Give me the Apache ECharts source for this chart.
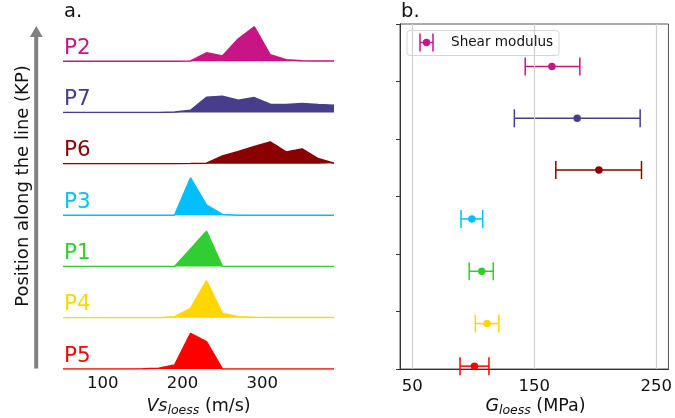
<!DOCTYPE html>
<html>
<head>
<meta charset="utf-8">
<script src="https://cdn.jsdelivr.net/npm/echarts@6/dist/echarts.min.js"></script>
<style>
html,body{margin:0;padding:0;background:#fff;}
#chart{width:675px;height:418px;}
</style>
</head>
<body>
<div id="chart"></div>
<script>
// ---------------- DATA ----------------
// Ridge order from top to bottom
const profiles = ['P2', 'P7', 'P6', 'P3', 'P1', 'P4', 'P5'];
const colors   = ['#C71585', '#483D8B', '#8B0000', '#00BFFF', '#32CD32', '#FFD700', '#FF0000'];

// Vs_loess bins (m/s)
const vsBins = [50, 70, 90, 110, 130, 150, 170, 190, 210, 230, 250, 270, 290, 310, 330, 350, 370, 390];

// Relative density per bin (arbitrary units) read from the ridgelines
const densP2 = [0, 0, 0, 0, 0, 0, 0, 0, 0.3, 8.5, 5.3, 22.5, 34.5, 6.5, 1.5, 0.5, 0.3, 0.3];
const densP7 = [0, 0, 0, 0, 0, 0, 0.2, 0.5, 2.3, 15.3, 16.3, 12.3, 15, 8.3, 8, 9, 8, 7.3];
const densP6 = [0, 0, 0, 0, 0, 0, 0, 0, 0.3, 0.7, 8, 12.3, 17.3, 22, 12, 15, 5.3, 0.7];
const densP3 = [0, 0, 0, 0, 0, 0, 0, 0, 37.3, 10.3, 0.7, 0, 0, 0, 0, 0, 0, 0];
const densP1 = [0, 0, 0, 0, 0, 0, 0, 0, 17.5, 35.3, 0, 0, 0, 0, 0, 0, 0, 0];
const densP4 = [0, 0, 0, 0, 0, 0, 0, 1, 9.3, 37, 4.3, 1, 0.5, 0.3, 0.3, 0.3, 0.3, 0.3];
const densP5 = [0, 0, 0, 0, 0, 0.3, 0.8, 4, 35.7, 27.3, 0, 0, 0, 0, 0, 0, 0, 0];
const densities = [densP2, densP7, densP6, densP3, densP1, densP4, densP5];

const vsTicks = [100, 200, 300];

// Shear modulus G_loess (MPa), same profile order
const gMean = [164.5, 185.2, 203.0, 98.9, 107.0, 111.3, 101.0];
const gLow  = [142.6, 133.7, 167.7, 90.0, 96.7, 101.8, 89.2];
const gHigh = [187.4, 236.8, 237.9, 107.8, 116.4, 121.0, 112.9];
const gPos  = [5.26, 4.36, 3.46, 2.61, 1.70, 0.79, 0.05];
const gTicks = [50, 150, 250];

// ---------------- LAYOUT ----------------
const FONT = 'DejaVu Sans';
const W = 675, H = 418;
const L_LEFT = 63, L_RIGHT = 334;       // left panel x extents
const TOP_BASE = 61.3, BOT_BASE = 369;  // ridge baselines
const RIDGE_H = 46;
const step = (BOT_BASE - TOP_BASE) / (profiles.length - 1);
const R_LEFT = 400, R_RIGHT = 671, R_TOP = 24, R_BOT = 369;

const grids = [], xAxes = [], yAxes = [], series = [], graphics = [];

profiles.forEach((p, i) => {
  const base = TOP_BASE + i * step;
  const last = i === profiles.length - 1;
  grids.push({left: L_LEFT, width: L_RIGHT - L_LEFT, top: base - RIDGE_H, height: RIDGE_H});
  xAxes.push({
    type: 'value', gridIndex: i, min: vsBins[0], max: vsBins[vsBins.length - 1], interval: 50,
    show: last,
    axisLine: {show: false}, axisTick: {show: false}, splitLine: {show: false},
    axisLabel: {
      show: last, margin: 6, color: '#111', fontFamily: FONT, fontSize: 16.5,
      formatter: v => vsTicks.indexOf(v) >= 0 ? String(v) : ''
    }
  });
  yAxes.push({type: 'value', gridIndex: i, min: 0, max: RIDGE_H, show: false});
  series.push({
    type: 'line', name: p, xAxisIndex: i, yAxisIndex: i,
    data: vsBins.map((x, j) => [x, densities[i][j]]),
    showSymbol: false, symbol: 'none',
    lineStyle: {color: colors[i], width: 1.5},
    areaStyle: {color: colors[i], opacity: 1},
    itemStyle: {color: colors[i]},
    silent: true, z: 2
  });
  graphics.push({
    type: 'text', x: L_LEFT + 1, y: base - 13,
    style: {text: p, fill: colors[i], font: '21.5px "' + FONT + '"', textVerticalAlign: 'middle', textAlign: 'left'}
  });
});

// right panel
const gi = profiles.length;
grids.push({left: R_LEFT, width: R_RIGHT - R_LEFT, top: R_TOP, height: R_BOT - R_TOP,
  show: true, borderColor: '#555', borderWidth: 1, backgroundColor: 'transparent'});
xAxes.push({
  type: 'value', gridIndex: gi, min: 40, max: 260, interval: 10,
  axisLine: {show: true, lineStyle: {color: '#333', width: 1}},
  axisTick: {show: false}, splitLine: {show: false},
  axisLabel: {margin: 9, color: '#111', fontFamily: FONT, fontSize: 16.5,
    formatter: v => gTicks.indexOf(v) >= 0 ? String(v) : ''}
});
yAxes.push({
  type: 'value', gridIndex: gi, min: 0, max: 6, interval: 1,
  axisLine: {show: true, lineStyle: {color: '#333', width: 1}},
  axisTick: {show: true, length: 4, lineStyle: {color: '#333'}},
  axisLabel: {show: false}, splitLine: {show: false}
});

// grid lines at tick values
series.push({
  type: 'line', xAxisIndex: gi, yAxisIndex: gi, data: [], z: 1, silent: true,
  markLine: {
    silent: true, symbol: 'none', label: {show: false},
    lineStyle: {color: '#d0d0d0', width: 1.2, type: 'solid'},
    data: gTicks.map(t => ({xAxis: t}))
  }
});

const ebData = gMean.map((m, i) => [gLow[i], gHigh[i], gPos[i], i]);
series.push({
  type: 'custom', name: 'Shear modulus', xAxisIndex: gi, yAxisIndex: gi, z: 3, silent: true,
  data: ebData,
  encode: {x: [0, 1], y: 2},
  renderItem: (params, api) => {
    const lo = api.coord([api.value(0), api.value(2)]);
    const hi = api.coord([api.value(1), api.value(2)]);
    const c = colors[api.value(3)];
    const cap = 9;
    const st = {stroke: c, lineWidth: 1.5};
    return {
      type: 'group',
      children: [
        {type: 'line', shape: {x1: lo[0], y1: lo[1], x2: hi[0], y2: hi[1]}, style: st},
        {type: 'line', shape: {x1: lo[0], y1: lo[1] - cap, x2: lo[0], y2: lo[1] + cap}, style: st},
        {type: 'line', shape: {x1: hi[0], y1: hi[1] - cap, x2: hi[0], y2: hi[1] + cap}, style: st}
      ]
    };
  }
});
series.push({
  type: 'scatter', name: 'Shear modulus', xAxisIndex: gi, yAxisIndex: gi, z: 4, silent: true,
  symbol: 'circle', symbolSize: 7.5,
  data: gMean.map((m, i) => ({value: [m, gPos[i]], itemStyle: {color: colors[i], opacity: 1}})),
  itemStyle: {color: colors[0], opacity: 1}
});

// legend (drawn)
const lgY = 42.5;
graphics.push({type: 'rect', shape: {x: 407, y: 30.5, width: 152, height: 25, r: 3},
  style: {fill: 'rgba(255,255,255,0.8)', stroke: '#d5d5d5', lineWidth: 1}});
graphics.push({type: 'line', shape: {x1: 420, y1: lgY, x2: 433, y2: lgY}, style: {stroke: colors[0], lineWidth: 1.5}});
graphics.push({type: 'line', shape: {x1: 420, y1: lgY - 9, x2: 420, y2: lgY + 9}, style: {stroke: colors[0], lineWidth: 1.5}});
graphics.push({type: 'line', shape: {x1: 433, y1: lgY - 9, x2: 433, y2: lgY + 9}, style: {stroke: colors[0], lineWidth: 1.5}});
graphics.push({type: 'circle', shape: {cx: 426.5, cy: lgY, r: 3.7}, style: {fill: colors[0]}});
graphics.push({type: 'text', x: 451, y: lgY, style: {text: 'Shear modulus', fill: '#111',
  font: '13.6px "' + FONT + '"', textVerticalAlign: 'middle'}});

// panel letters
graphics.push({type: 'text', x: 64, y: 11.5, style: {text: 'a.', fill: '#111', font: '19.5px "' + FONT + '"', textVerticalAlign: 'middle'}});
graphics.push({type: 'text', x: 401, y: 11.5, style: {text: 'b.', fill: '#111', font: '19.5px "' + FONT + '"', textVerticalAlign: 'middle'}});

// arrow
graphics.push({type: 'rect', shape: {x: 34.2, y: 36, width: 4, height: 332.5}, style: {fill: '#808080'}});
graphics.push({type: 'polygon', shape: {points: [[29.9, 37], [42.7, 37], [36.3, 26]]}, style: {fill: '#808080'}});

// y label
graphics.push({type: 'text', x: 23, y: 186, rotation: Math.PI / 2,
  style: {text: 'Position along the line (KP)', fill: '#111', font: '18px "' + FONT + '"',
    textAlign: 'center', textVerticalAlign: 'middle'}});

// axis titles
const richT = {
  i: {fontFamily: FONT, fontSize: 17.5, fontStyle: 'italic', fill: '#111'},
  s: {fontFamily: FONT, fontSize: 12.5, fontStyle: 'italic', fill: '#111', padding: [10, 0, 0, 0]},
  n: {fontFamily: FONT, fontSize: 17.5, fill: '#111'}
};
graphics.push({type: 'text', x: (L_LEFT + L_RIGHT) / 2, y: 406,
  style: {text: '{i|Vs}{s|loess}{n| (m/s)}', rich: richT, textAlign: 'center', textVerticalAlign: 'middle'}});
graphics.push({type: 'text', x: (R_LEFT + R_RIGHT) / 2, y: 406,
  style: {text: '{i|G}{s|loess}{n| (MPa)}', rich: richT, textAlign: 'center', textVerticalAlign: 'middle'}});

const chart = echarts.init(document.getElementById('chart'), null, {renderer: 'canvas', width: W, height: H});
chart.setOption({
  animation: false,
  backgroundColor: '#fff',
  grid: grids, xAxis: xAxes, yAxis: yAxes, series: series,
  graphic: graphics.map(g => Object.assign({silent: true}, g))
});
</script>
</body>
</html>
